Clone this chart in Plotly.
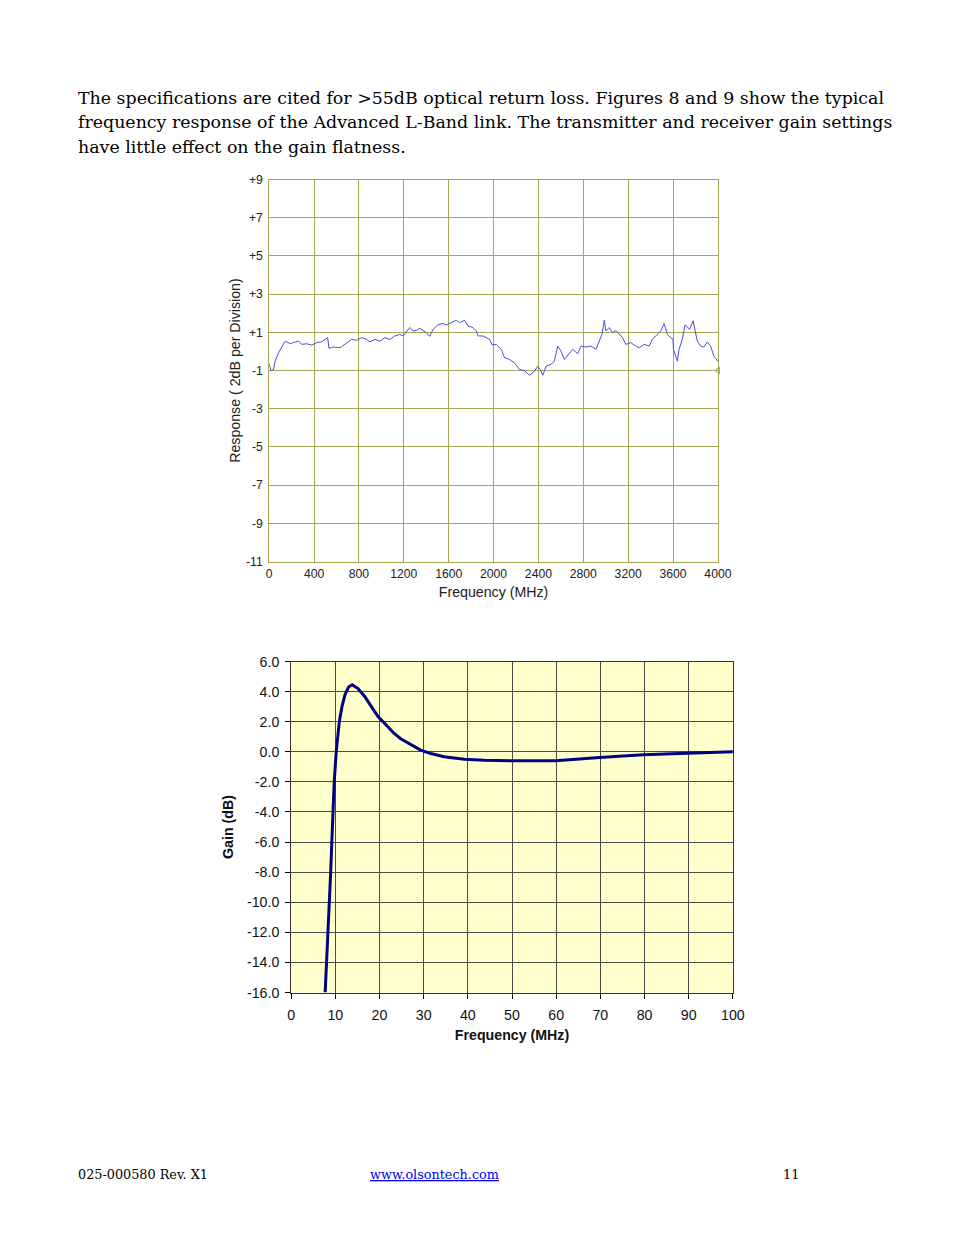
import plotly.graph_objects as go

W, H = 954, 1235
# Measured page rendering: shown_x ~ 3 + 0.984*fig_x, shown_y ~ 7.5 + 0.987*fig_y.
SX, AX = 0.984, 3.0
SY, AY = 0.987, 7.5
FS = 1 / 0.985  # font compensation

# ---------------- Figure 8 data (L-band response) ----------------
freq1_mhz = [0, 15, 38, 53, 83, 113, 142, 157, 187, 216, 261, 290, 335, 379, 424, 468, 513, 521,
             533, 572, 631, 676, 735, 779, 824, 868, 898, 942, 987, 1031, 1076, 1120, 1164, 1194,
             1218, 1253, 1283, 1312, 1342, 1372, 1401, 1431, 1461, 1505, 1550, 1579, 1624, 1668,
             1698, 1742, 1772, 1816, 1846, 1861, 1905, 1935, 1964, 1988, 2024, 2068, 2098, 2142,
             2187, 2231, 2276, 2320, 2364, 2394, 2415, 2439, 2468, 2513, 2542, 2572, 2601, 2631,
             2676, 2705, 2750, 2779, 2824, 2868, 2913, 2942, 2966, 2987, 3001, 3031, 3061, 3090,
             3120, 3150, 3179, 3224, 3268, 3299, 3342, 3387, 3416, 3461, 3490, 3520, 3550, 3579,
             3600, 3603, 3624, 3639, 3653, 3683, 3707, 3727, 3748, 3779, 3796, 3816, 3846, 3875,
             3905, 3935, 3964, 4000]
response1_db = [-0.65, -1.0, -0.95, -0.5, -0.07, 0.28, 0.54, 0.5, 0.4, 0.46, 0.54, 0.37, 0.4, 0.33,
                0.46, 0.5, 0.68, 0.72, 0.16, 0.23, 0.19, 0.37, 0.63, 0.58, 0.72, 0.63, 0.5, 0.63,
                0.54, 0.72, 0.63, 0.81, 0.89, 0.81, 0.98, 1.25, 1.07, 1.1, 1.21, 1.07, 0.98, 0.79,
                1.16, 1.39, 1.46, 1.39, 1.51, 1.63, 1.51, 1.63, 1.33, 1.25, 1.07, 0.81, 0.81, 0.72,
                0.63, 0.33, 0.37, 0.11, -0.33, -0.42, -0.6, -0.95, -1.0, -1.25, -1.04, -0.77, -0.95,
                -1.25, -0.77, -0.68, -0.51, 0.28, 0.02, -0.42, -0.07, 0.11, -0.12, 0.28, 0.23, 0.28,
                0.11, 0.54, 0.89, 1.63, 1.07, 1.25, 0.98, 1.1, 0.89, 0.72, 0.37, 0.46, 0.28, 0.19,
                0.37, 0.28, 0.63, 0.89, 1.07, 1.46, 0.89, 0.72, 0.63, 0.11, -0.33, -0.51, 0.11,
                0.63, 1.39, 1.25, 1.16, 1.6, 1.07, 0.54, 0.28, 0.23, 0.5, 0.28, -0.25, -0.51]
ref_marker_freq = [4000]
ref_marker_level = [-1]

x1_ticks = list(range(0, 4001, 400))
y1_ticks = [9, 7, 5, 3, 1, -1, -3, -5, -7, -9, -11]
y1_ticklabels = ["+9", "+7", "+5", "+3", "+1", "-1", "-3", "-5", "-7", "-9", "-11"]

# ---------------- Figure 9 data (low-frequency gain) ----------------
freq2_mhz = [7.7, 8.05, 8.4, 8.7, 8.95, 9.2, 9.45, 9.75, 10.2, 10.5, 10.9, 11.5, 12.2, 13.0, 13.8,
             15.1, 16.7, 18.2, 19.7, 21.6, 23.2, 24.8, 27.0, 29.3, 31.6, 34.6, 39.2, 43.8, 49.9,
             59.9, 69.8, 79.7, 89.7, 100.0]
gain2_db = [-16.0, -14.0, -12.0, -10.0, -8.0, -6.0, -4.0, -2.0, 0.0, 1.0, 2.0, 3.0, 3.8, 4.3, 4.45,
            4.21, 3.66, 2.99, 2.32, 1.76, 1.25, 0.87, 0.51, 0.11, -0.11, -0.33, -0.49, -0.56, -0.6,
            -0.6, -0.38, -0.2, -0.09, 0.0]
x2_ticks = list(range(0, 101, 10))
y2_ticks = list(range(-16, 7, 2))
y2_ticklabels = ["%.1f" % v for v in y2_ticks]  # plain hyphen minus, as in the original

OLIVE = "#a8a650"


def px_x(p):
    return ((p - AX) / SX) / W


def px_y(p):
    return 1 - ((p - AY) / SY) / H


def fs(v):
    return round(v * FS, 1)


fig = go.Figure()

fig.add_trace(go.Scatter(x=freq1_mhz, y=response1_db, mode="lines",
                         line=dict(color="#4c4ce0", width=1), xaxis="x", yaxis="y",
                         showlegend=False, hoverinfo="skip"))
fig.add_trace(go.Scatter(x=ref_marker_freq, y=ref_marker_level, mode="markers",
                         marker=dict(symbol="triangle-left-open", size=6, color=OLIVE,
                                     line=dict(color=OLIVE, width=1)),
                         cliponaxis=False, xaxis="x", yaxis="y", showlegend=False,
                         hoverinfo="skip"))
fig.add_trace(go.Scatter(x=freq2_mhz, y=gain2_db, mode="lines",
                         line=dict(color="#000080", width=3), xaxis="x2", yaxis="y2",
                         showlegend=False, hoverinfo="skip"))

SANS = "Liberation Sans, Arial, sans-serif"
axis_font1 = dict(family=SANS, size=fs(12), color="#222")
axis_font2 = dict(family=SANS, size=fs(14), color="#111")

fig.update_layout(
    width=W, height=H, margin=dict(l=0, r=0, t=0, b=0),
    paper_bgcolor="white", plot_bgcolor="rgba(0,0,0,0)",
    xaxis=dict(domain=[px_x(269), px_x(719)], range=[0, 4000], tickvals=x1_ticks,
               showgrid=True, gridcolor=OLIVE, gridwidth=1, zeroline=False,
               showline=True, linecolor=OLIVE, linewidth=1, mirror=True,
               ticks="", tickfont=axis_font1, ticklabelstandoff=1, anchor="y",
               title=dict(text="Frequency (MHz)", standoff=6,
                          font=dict(family=SANS, size=fs(14), color="#222"))),
    yaxis=dict(domain=[px_y(561), px_y(179)], range=[-11, 9], tickvals=y1_ticks,
               ticktext=y1_ticklabels, showgrid=True, gridcolor=OLIVE, gridwidth=1,
               zeroline=False, showline=True, linecolor=OLIVE, linewidth=1, mirror=True,
               ticks="", tickfont=axis_font1, ticklabelstandoff=3, anchor="x",
               title=dict(text="Response ( 2dB per Division)", standoff=2,
                          font=dict(family=SANS, size=fs(14), color="#222"))),
    xaxis2=dict(domain=[px_x(291), px_x(734)], range=[0, 100], tickvals=x2_ticks,
                showgrid=True, gridcolor="#4a4a4a", gridwidth=1, zeroline=False,
                showline=True, linecolor="#333", linewidth=1, mirror=True,
                ticks="outside", ticklen=5, tickcolor="#000", tickfont=axis_font2,
                anchor="y2", ticklabelstandoff=4,
                title=dict(text="<b>Frequency (MHz)</b>", standoff=8,
                           font=dict(family=SANS, size=fs(14), color="#111"))),
    yaxis2=dict(domain=[px_y(992), px_y(661)], range=[-16, 6], tickvals=y2_ticks,
                ticktext=y2_ticklabels, showgrid=True, gridcolor="#4a4a4a", gridwidth=1,
                zeroline=False, showline=True, linecolor="#333", linewidth=1, mirror=True,
                ticks="outside", ticklen=5, tickcolor="#000", tickfont=axis_font2,
                anchor="x2", ticklabelstandoff=3,
                title=dict(text="<b>Gain (dB)</b>", standoff=10,
                           font=dict(family=SANS, size=fs(14), color="#111"))),
    shapes=[dict(type="rect", xref="x2 domain", yref="y2 domain", x0=0, x1=1, y0=0, y1=1,
                 fillcolor="#ffffcc", line=dict(width=0), layer="below")],
)

serif = dict(family="DejaVu Serif, Liberation Serif, serif", size=fs(17.1), color="#000")
para_lines = [
    "The specifications are cited for >55dB optical return loss. Figures 8 and 9 show the typical",
    "frequency response of the Advanced L-Band link. The transmitter and receiver gain settings",
    "have little effect on the gain flatness.",
]
para_y = [97, 121, 146]
annotations = []
for txt, yy in zip(para_lines, para_y):
    annotations.append(dict(text=txt, x=px_x(75), y=px_y(yy), xref="paper", yref="paper",
                            xanchor="left", yanchor="middle", showarrow=False, font=serif))

foot = dict(family="DejaVu Serif, Liberation Serif, serif", size=fs(12.6), color="#000")
annotations.append(dict(text="025-000580 Rev. X1", x=px_x(75), y=px_y(1174), xref="paper",
                        yref="paper", xanchor="left", yanchor="middle", showarrow=False, font=foot))
annotations.append(dict(text="<u>www.olsontech.com</u>", x=px_x(435), y=px_y(1174), xref="paper",
                        yref="paper", xanchor="center", yanchor="middle", showarrow=False,
                        font=dict(family=foot["family"], size=foot["size"], color="#0000ee")))
annotations.append(dict(text="11", x=px_x(792), y=px_y(1174), xref="paper", yref="paper",
                        xanchor="center", yanchor="middle", showarrow=False, font=foot))
fig.update_layout(annotations=annotations)

fig.write_html("out.html")
